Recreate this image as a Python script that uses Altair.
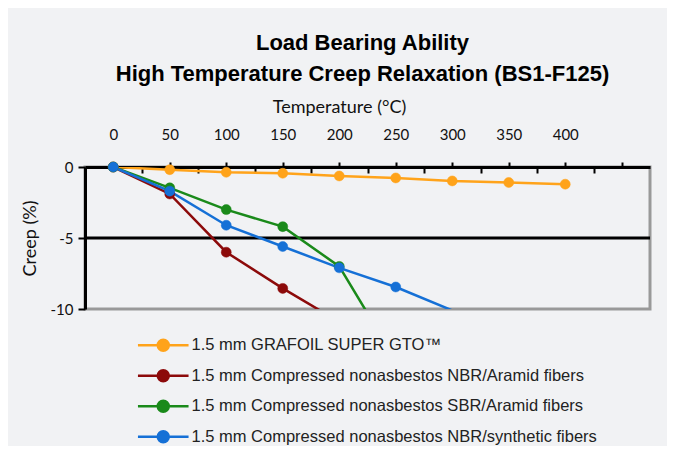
import altair as alt
import pandas as pd

series_names = [
    "1.5 mm GRAFOIL SUPER GTO™",
    "1.5 mm Compressed nonasbestos NBR/Aramid fibers",
    "1.5 mm Compressed nonasbestos SBR/Aramid fibers",
    "1.5 mm Compressed nonasbestos NBR/synthetic fibers",
]
series_colors = ["#ffa31a", "#8c0a0a", "#1a8a1a", "#1570d6"]

temps_grafoil = [0, 50, 100, 150, 200, 250, 300, 350, 400]
creep_grafoil = [0, -0.19, -0.37, -0.44, -0.63, -0.77, -0.98, -1.09, -1.21]

temps_nbr_aramid = [0, 50, 100, 150, 200]
creep_nbr_aramid = [0, -1.9, -6.0, -8.55, -10.9]

temps_sbr_aramid = [0, 50, 100, 150, 200, 250]
creep_sbr_aramid = [0, -1.47, -3.0, -4.2, -7.0, -13.6]

temps_nbr_synth = [0, 50, 100, 150, 200, 250, 300]
creep_nbr_synth = [0, -1.7, -4.1, -5.6, -7.1, -8.45, -10.1]

major_ticks = [0, 50, 100, 150, 200, 250, 300, 350, 400, 450]
minor_ticks = [25, 75, 125, 175, 225, 275, 325, 375, 425]
y_ticks = [0, -5, -10]
grid_levels = [-5]

rows = []
for i, (name, ts, vs) in enumerate(zip(
        series_names,
        [temps_grafoil, temps_nbr_aramid, temps_sbr_aramid, temps_nbr_synth],
        [creep_grafoil, creep_nbr_aramid, creep_sbr_aramid, creep_nbr_synth])):
    for t, v in zip(ts, vs):
        rows.append({"series": name, "temp": t, "creep": v, "k": i})
df = pd.DataFrame(rows)
grid_df = pd.DataFrame({"creep": grid_levels})

xscale = alt.Scale(domain=[-25, 475], nice=False, zero=False)
yscale = alt.Scale(domain=[-10, 0], nice=False, zero=False)
cscale = alt.Scale(domain=series_names, range=series_colors)

y_axis = alt.Axis(
    values=y_ticks, labelExpr="'' + datum.value", grid=False,
    domainColor="black", domainWidth=3, tickColor="black", tickWidth=2, tickSize=7,
    labelFont="Lato", labelFontSize=15, labelColor="#111", labelPadding=5,
    title="Creep (%)", titleFont="Lato", titleFontSize=18, titleFontWeight="normal",
    titleColor="#111", titlePadding=11,
)

top_axis = alt.Axis(
    orient="top", values=major_ticks,
    labelExpr="datum.value <= 400 ? datum.label : ''", grid=False,
    domainColor="black", domainWidth=3, tickColor="black", tickWidth=2, tickSize=5,
    labelFont="Lato", labelFontSize=15, labelColor="#111", labelPadding=20,
    title="Temperature (°C)", titleFont="Lato", titleFontSize=18,
    titleFontWeight="normal", titleColor="#111", titlePadding=11, titleX=254,
)

minor_axis = alt.Axis(
    orient="bottom", offset=-142, values=minor_ticks, labels=False, domain=False,
    grid=False, tickColor="black", tickWidth=2, tickSize=6, title=None,
)

legend = alt.Legend(
    title=None, orient="none", legendX=70, legendY=170, direction="vertical",
    symbolType="M-4.6,0H4.6M1,0A1,1,0,1,1,-1,0A1,1,0,1,1,1,0Z",
    symbolSize=121, symbolStrokeWidth=2.5, symbolOpacity=1,
    labelFont="Liberation Sans", labelFontSize=16.5, labelColor="#222",
    labelOffset=20, rowPadding=8.5, padding=0, labelLimit=600,
)

stroke_enc = alt.Stroke("series:N", scale=cscale, sort=series_names, legend=legend)
fill_enc = alt.Fill("series:N", scale=cscale, sort=series_names, legend=legend)

grid = alt.Chart(grid_df).mark_rule(color="black", strokeWidth=3).encode(
    y=alt.Y("creep:Q", scale=yscale, axis=y_axis)
)

lines = alt.Chart(df).mark_line(strokeWidth=2.5, clip=True).encode(
    x=alt.X("temp:Q", scale=xscale, axis=minor_axis),
    y=alt.Y("creep:Q", scale=yscale, axis=y_axis),
    stroke=stroke_enc,
    detail="series:N",
    order="temp:Q",
)

points = alt.Chart(df).transform_filter(alt.datum.creep >= -10).mark_point(
    filled=True, size=100, opacity=1, strokeWidth=0.5
).encode(
    x=alt.X("temp:Q", scale=xscale, axis=top_axis),
    y=alt.Y("creep:Q", scale=yscale, axis=y_axis),
    fill=fill_enc,
    stroke=stroke_enc,
    order="k:Q",
)

chart = alt.layer(grid, lines, points).resolve_axis(x="independent").properties(
    width=565, height=142,
    autosize=alt.AutoSizeParams(type="none"),
    padding={"left": 77, "top": 159, "right": 17, "bottom": 137},
    background="#f1f2f4",
    title=alt.TitleParams(
        text=["Load Bearing Ability", "High Temperature Creep Relaxation (BS1-F125)"],
        font="Liberation Sans", fontSize=22, fontWeight="bold", color="black",
        lineHeight=31, anchor="middle", offset=12, dx=-5,
    ),
).configure_view(stroke="#999999", strokeWidth=3)

chart.save("out.html", embed_options={"renderer": "svg", "actions": False})
